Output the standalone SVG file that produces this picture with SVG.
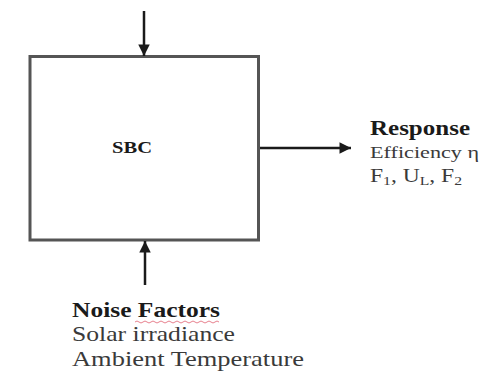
<svg xmlns="http://www.w3.org/2000/svg" width="484" height="385" viewBox="0 0 484 385">
<defs>
<marker id="ah" viewBox="0 0 10 10" refX="10" refY="5" markerWidth="5" markerHeight="4.6" orient="auto" markerUnits="strokeWidth">
<path d="M0,0 L10,5 L0,10 z" fill="#1a1a1a"/>
</marker>
<style>
.t{font-family:"Liberation Serif","Times New Roman","DejaVu Serif",serif;fill:#3a3a3a}
.b{font-weight:bold;fill:#1a1a1a}
.c{stroke:#1a1a1a;stroke-width:2.5;fill:none;marker-end:url(#ah)}
</style>
</defs>
<rect width="484" height="385" fill="#ffffff"/>
<g id="sbc">
<rect x="30" y="56.5" width="228.5" height="183.5" fill="#ffffff" stroke="#555" stroke-width="3"/>
<text class="t b" x="112" y="153" font-size="17" textLength="40" lengthAdjust="spacingAndGlyphs">SBC</text>
</g>
<g id="response">
<text class="t b" x="370" y="135" font-size="20" textLength="100" lengthAdjust="spacingAndGlyphs">Response</text>
<text class="t" x="370" y="158" font-size="17" textLength="109" lengthAdjust="spacingAndGlyphs">Efficiency η</text>
<text class="t" x="370" y="182" font-size="18" textLength="92" lengthAdjust="spacingAndGlyphs">F<tspan font-size="12" dy="3">1</tspan><tspan dy="-3">, U</tspan><tspan font-size="12" dy="3">L</tspan><tspan dy="-3">, F</tspan><tspan font-size="12" dy="3">2</tspan></text>
</g>
<g id="noise">
<text class="t b" x="72" y="317" font-size="21" textLength="148" lengthAdjust="spacingAndGlyphs">Noise Factors</text>
<path d="M135,322 q2,-2 4,0 t4,0 t4,0 t4,0 t4,0 t4,0 t4,0 t4,0 t4,0 t4,0 t4,0 t4,0 t4,0 t4,0 t4,0 t4,0 t4,0 t4,0 t4,0 t4,0 t4,0" stroke="#e06070" stroke-width="0.8" fill="none"/>
<text class="t" x="72" y="341" font-size="21" textLength="163" lengthAdjust="spacingAndGlyphs">Solar irradiance</text>
<text class="t" x="72" y="366" font-size="21" textLength="232" lengthAdjust="spacingAndGlyphs">Ambient Temperature</text>
</g>
<g id="connectors">
<line class="c" x1="144" y1="11" x2="144" y2="56"/>
<line class="c" x1="145" y1="285" x2="145" y2="241"/>
<line class="c" x1="260" y1="148" x2="351" y2="148"/>
</g>
</svg>
